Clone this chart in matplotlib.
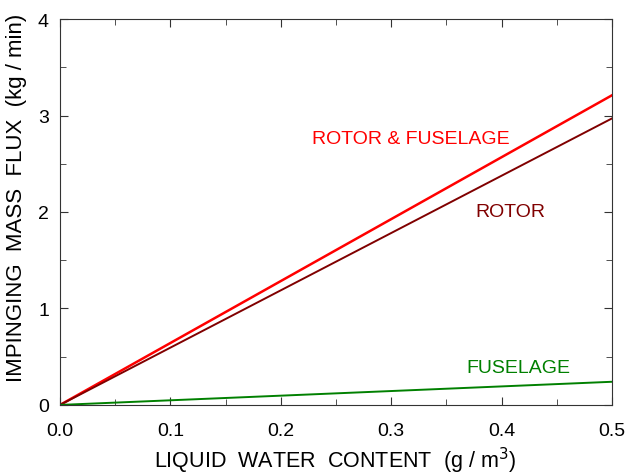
import matplotlib
matplotlib.use("Agg")
import matplotlib.pyplot as plt
from matplotlib.ticker import MultipleLocator

lwc = [0.0, 0.5]
rotor_fuselage = [0.0, 3.21]
rotor = [0.0, 2.97]
fuselage = [0.0, 0.24]

plt.rcParams['font.family'] = ['Liberation Sans', 'DejaVu Sans']

fig = plt.figure(figsize=(6.29, 4.77), dpi=100)
ax = fig.add_axes([0.0954, 0.149, 0.8776, 0.809])

ax.plot(lwc, rotor_fuselage, color='#ff0000', lw=1.8)
ax.plot(lwc, rotor, color='#800000', lw=1.4)
ax.plot(lwc, fuselage, color='#008000', lw=1.4)

ax.text(0.228, 2.76, 'ROTOR & FUSELAGE', color='#ff0000', fontsize=14, va='center')
ax.text(0.376, 2.01, 'ROTOR', color='#800000', fontsize=14, va='center')
ax.text(0.368, 0.39, 'FUSELAGE', color='#008000', fontsize=14, va='center')

ax.set_xlim(0, 0.5)
ax.set_ylim(0, 4)
ax.xaxis.set_major_locator(MultipleLocator(0.1))
ax.xaxis.set_minor_locator(MultipleLocator(0.05))
ax.yaxis.set_major_locator(MultipleLocator(1))
ax.yaxis.set_minor_locator(MultipleLocator(0.5))
ax.xaxis.set_major_formatter(plt.FormatStrFormatter('%.1f'))
ax.tick_params(which='both', direction='in', top=True, right=True, labelsize=14, colors='#333333', labelcolor='black')
ax.tick_params(which='major', length=6)
ax.tick_params(axis='y', which='major', pad=8)
ax.tick_params(axis='x', which='major', pad=12)
ax.tick_params(which='minor', length=4)
for s in ax.spines.values():
    s.set_color('#333333')

ax.set_xlabel('LIQUID  WATER  CONTENT  (g / m$^3$)', fontsize=15.5)
ax.set_ylabel('IMPINGING  MASS  FLUX  (kg / min)', fontsize=16)
ax.xaxis.set_label_coords(0.498, -0.103)
ax.yaxis.set_label_coords(-0.06, 0.539)

fig.savefig('out.png', dpi=100)
